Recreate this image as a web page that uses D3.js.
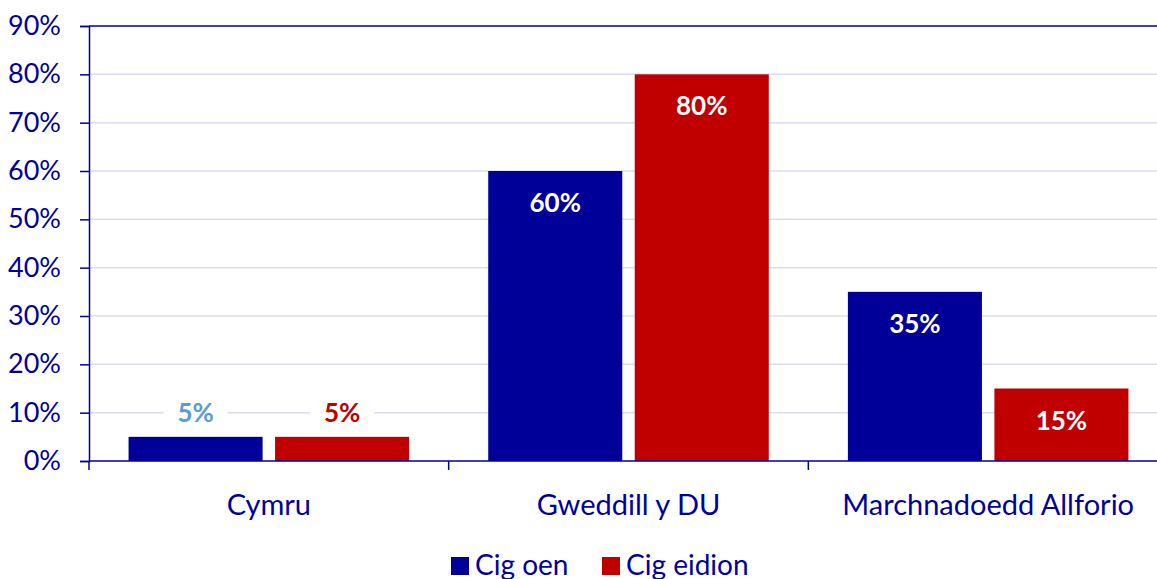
<!DOCTYPE html>
<html>
<head>
<meta charset="utf-8">
<script src="https://cdn.jsdelivr.net/npm/d3@7"></script>
<style>
  body { margin: 0; background: #fff; }
  svg, svg text { font-family: Lato, "Open Sans", sans-serif; }
</style>
</head>
<body>
<svg id="chart" width="1157" height="579"></svg>
<script>
// data
var categories = ['Cymru', 'Gweddill y DU', 'Marchnadoedd Allforio'];
var seriesNames = ['Cig oen', 'Cig eidion'];
var cigOen = [5, 60, 35];
var cigEidion = [5, 80, 15];
var yTicks = [0, 10, 20, 30, 40, 50, 60, 70, 80, 90];

var navy = '#00009a';
var colors = ['#000099', '#c00000'];

var svg = d3.select('#chart');
var mLeft = 89, mRight = 1168, mTop = 26, mBottom = 461;

var x = d3.scaleBand().domain(categories).range([mLeft, mRight]).paddingInner(0).paddingOuter(0);
var xs = d3.scaleBand().domain(seriesNames).range([0, x.bandwidth()]).paddingInner(0.085).paddingOuter(0.27);
var y = d3.scaleLinear().domain([0, 90]).range([mBottom, mTop]);

// gridlines
svg.append('g').selectAll('line')
    .data(yTicks.filter(d => d > 0 && d < 90))
    .enter().append('line')
    .attr('x1', mLeft).attr('x2', mRight)
    .attr('y1', d => y(d)).attr('y2', d => y(d))
    .attr('stroke', '#dcdcf2').attr('stroke-width', 1.5);

// top line
svg.append('line').attr('x1', mLeft).attr('x2', mRight)
    .attr('y1', y(90)).attr('y2', y(90))
    .attr('stroke', navy).attr('stroke-width', 1.5);

// y axis
var yAxis = svg.append('g')
    .attr('transform', `translate(${mLeft},0)`)
    .call(d3.axisLeft(y).tickValues(yTicks).tickFormat(d => d + '%').tickSize(9).tickPadding(7));
yAxis.attr('font-family', null);
yAxis.select('.domain').attr('stroke', navy).attr('stroke-width', 1.5);
yAxis.selectAll('.tick line').attr('stroke', navy).attr('stroke-width', 1.5);
yAxis.selectAll('.tick text').attr('fill', navy).style('font-size', '27px').attr('x', -28);

// bars
var rows = categories.map((c, i) => ({cat: c, vals: [cigOen[i], cigEidion[i]]}));
var groups = svg.append('g').selectAll('g.cat')
    .data(rows).enter().append('g')
    .attr('transform', d => `translate(${x(d.cat)},0)`);

groups.selectAll('rect')
    .data(d => d.vals.map((v, j) => ({s: seriesNames[j], v: v, j: j})))
    .enter().append('rect')
    .attr('x', d => xs(d.s))
    .attr('width', xs.bandwidth())
    .attr('y', d => y(d.v))
    .attr('height', d => y(0) - y(d.v))
    .attr('fill', d => colors[d.j]);

// value labels
var labelColorsOutside = ['#5b9bd5', '#c00000'];
groups.each(function(d) {
    var g = d3.select(this);
    d.vals.forEach(function(v, j) {
        var cx = xs(seriesNames[j]) + xs.bandwidth() / 2;
        var outside = v < 10;
        var ty = outside ? y(v) - 25 : y(v) + 31;
        if (outside) {
            g.append('rect')
                .attr('x', cx - 32).attr('y', ty - 14)
                .attr('width', 64).attr('height', 28)
                .attr('fill', '#fff');
        }
        g.append('text')
            .attr('x', cx).attr('y', ty)
            .attr('text-anchor', 'middle')
            .attr('dominant-baseline', 'central')
            .attr('fill', outside ? labelColorsOutside[j] : '#fff')
            .style('font-size', '26px')
            .style('font-weight', 'bold')
            .text(v + '%');
    });
});

// x axis
svg.append('line').attr('x1', mLeft).attr('x2', mRight)
    .attr('y1', mBottom).attr('y2', mBottom)
    .attr('stroke', navy).attr('stroke-width', 1.5);
svg.append('g').selectAll('line')
    .data(categories.map(c => x(c)).concat([mRight]))
    .enter().append('line')
    .attr('x1', d => d).attr('x2', d => d)
    .attr('y1', mBottom).attr('y2', mBottom + 9)
    .attr('stroke', navy).attr('stroke-width', 1.5);
svg.append('g').selectAll('text')
    .data(categories).enter().append('text')
    .attr('x', d => x(d) + x.bandwidth() / 2)
    .attr('y', 503)
    .attr('text-anchor', 'middle')
    .attr('dominant-baseline', 'central')
    .attr('fill', navy)
    .style('font-size', '29px')
    .text(d => d);

// legend
var legendX = [451, 602];
var legend = svg.append('g').selectAll('g')
    .data(seriesNames).enter().append('g')
    .attr('transform', (d, i) => `translate(${legendX[i]},557)`);
legend.append('rect').attr('width', 18).attr('height', 18)
    .attr('fill', (d, i) => colors[i]);
legend.append('text')
    .attr('x', 24).attr('y', 7)
    .attr('dominant-baseline', 'central')
    .attr('fill', navy)
    .style('font-size', '28px')
    .text(d => d);
</script>
</body>
</html>
